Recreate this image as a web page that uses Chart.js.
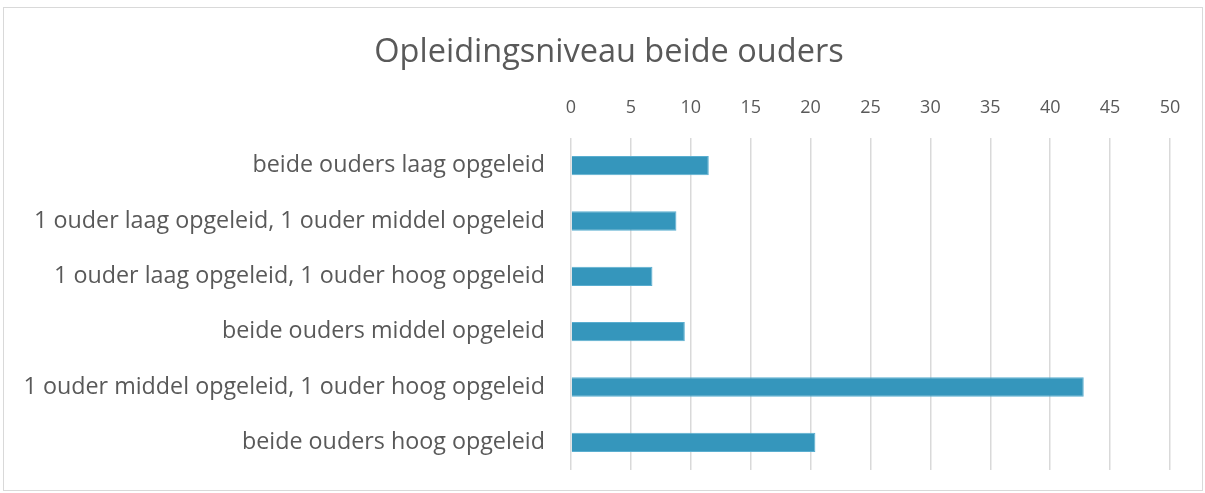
<!DOCTYPE html>
<html>
<head>
<meta charset="utf-8">
<script src="https://cdn.jsdelivr.net/npm/chart.js@4"></script>
<style>
  body { margin: 0; background: #fff; }
  #frame { position: absolute; left: 3px; top: 7px; width: 1198px; height: 482px; border: 1px solid #d9d9d9; }
</style>
</head>
<body>
<div id="frame"><canvas id="chart" width="1198" height="482"></canvas></div>
<script>
const chartTitle = 'Opleidingsniveau beide ouders';
const categories = [
    'beide ouders laag opgeleid',
    '1 ouder laag opgeleid, 1 ouder middel opgeleid',
    '1 ouder laag opgeleid, 1 ouder hoog opgeleid',
    'beide ouders middel opgeleid',
    '1 ouder middel opgeleid, 1 ouder hoog opgeleid',
    'beide ouders hoog opgeleid'
];
const values = [11.5, 8.8, 6.8, 9.5, 42.8, 20.4];
const axisMin = 0, axisMax = 50, axisStep = 5;

// title drawn centred on the whole frame, like the original
const titlePlugin = {
    id: 'frameTitle',
    afterDraw(chart) {
        const c = chart.ctx;
        c.save();
        c.font = '32.5px "Open Sans"';
        c.fillStyle = '#595959';
        c.textAlign = 'center';
        c.textBaseline = 'middle';
        c.fillText(chartTitle, 605, 45);
        c.restore();
    }
};

const ctx = document.getElementById('chart').getContext('2d');
const chart = new Chart(ctx, {
    type: 'bar',
    data: {
        labels: categories,
        datasets: [{
            data: values,
            backgroundColor: '#3596bc',
            borderColor: '#5aaed0',
            borderWidth: 1,
            barPercentage: 0.7,
            categoryPercentage: 0.5
        }]
    },
    options: {
        indexAxis: 'y',
        responsive: false,
        animation: false,
        layout: {padding: {left: 0, right: 32, top: 73, bottom: 20}},
        plugins: {
            legend: {display: false},
            tooltip: {enabled: false},
            title: {display: false}
        },
        scales: {
            x: {
                position: 'top',
                min: axisMin,
                max: axisMax,
                afterFit(scale) {
                    scale.height = 57;
                    scale.paddingLeft = 0;
                    scale.paddingRight = 0;
                },
                ticks: {
                    stepSize: axisStep,
                    color: '#595959',
                    font: {family: 'Open Sans', size: 18},
                    padding: 19
                },
                grid: {color: '#d9d9d9', lineWidth: 1.5, drawTicks: false},
                border: {display: false}
            },
            y: {
                afterFit(scale) {
                    scale.width = 567;
                    scale.paddingTop = 0;
                    scale.paddingBottom = 0;
                },
                ticks: {
                    color: '#595959',
                    font: {family: 'Open Sans', size: 23.3},
                    padding: 26
                },
                grid: {display: false, drawTicks: false},
                border: {display: false}
            }
        }
    },
    plugins: [titlePlugin]
});
</script>
</body>
</html>
